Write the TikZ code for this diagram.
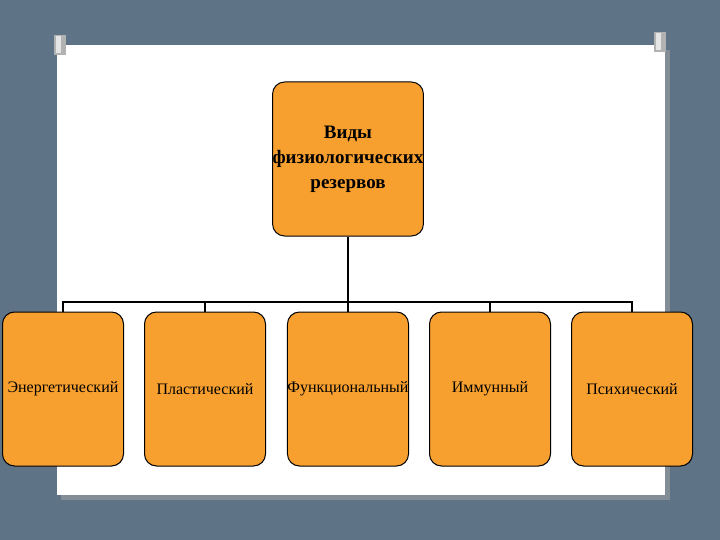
\documentclass[tikz,border=0pt]{standalone}
\usepackage{fontspec}
\setmainfont{Liberation Serif}
\begin{document}
\begin{tikzpicture}[x=1pt,y=-1pt,
  box/.style={draw=black,line width=1pt,fill=orangebox,rounded corners=12pt,align=center,inner sep=0pt},
  conn/.style={line width=2.5pt,draw=black}]
\definecolor{orangebox}{HTML}{F7A030}
\definecolor{slate}{HTML}{5E7486}
\useasboundingbox (0,0) rectangle (720,540);
\fill[slate] (0,0) rectangle (720,540);
\fill[black!35,opacity=0.5] (61,50) rectangle (670,500);
\fill[white] (57,45) rectangle (665,495);
% pins
\foreach \px/\py [count=\i] in {60/45,660/42}{
  \fill[gray!60] (\px-6,\py-10) rectangle (\px+6,\py+10);
  \fill[gray!20] (\px-4,\py-9) rectangle (\px+1,\py+8);
}
\node[box,minimum width=122pt,minimum height=154pt,font=\bfseries\fontsize{19}{25}\selectfont] (top) at (348,159) {Виды\\физиологических\\резервов};
\foreach \cx/\t/\n in {63/Энергетический/a,205/Пластический/b,348/Функциональный/c,490/Иммунный/d,632/Психический/e}{
  \node[box,minimum width=121pt,minimum height=154pt,font=\fontsize{16}{18}\selectfont] (\n) at (\cx,389) {\t};
}
\coordinate (bar) at (348,302);
\draw[conn] (top.south) -- (bar);
\draw[conn] (a.north) |- (bar) -| (e.north);
\foreach \n in {b,c,d}{\draw[conn] (\n.north) -- (\n.north |- bar);}
\end{tikzpicture}
\end{document}
